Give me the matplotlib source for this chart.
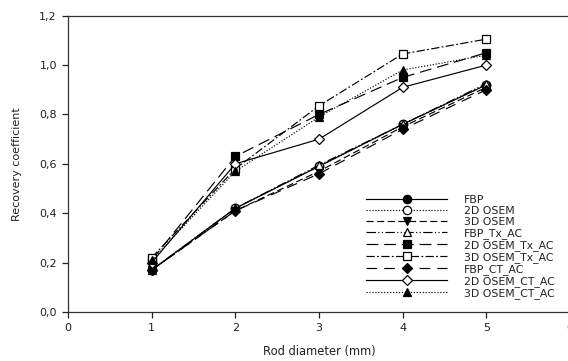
import matplotlib
matplotlib.use("Agg")
import matplotlib.pyplot as plt

plt.rcParams['font.family'] = ['DejaVu Sans']

# data
rod_diam = [1, 2, 3, 4, 5]

fbp = [0.17, 0.42, 0.59, 0.76, 0.92]
osem2d = [0.17, 0.42, 0.59, 0.76, 0.92]
osem3d = [0.17, 0.41, 0.57, 0.75, 0.91]
fbp_tx = [0.17, 0.42, 0.595, 0.76, 0.925]
osem2d_tx = [0.21, 0.63, 0.80, 0.95, 1.05]
osem3d_tx = [0.22, 0.58, 0.835, 1.045, 1.105]
fbp_ct = [0.17, 0.41, 0.56, 0.74, 0.90]
osem2d_ct = [0.20, 0.60, 0.70, 0.91, 1.00]
osem3d_ct = [0.21, 0.57, 0.79, 0.98, 1.04]

labels = ["FBP", "2D OSEM", "3D OSEM", "FBP_Tx_AC", "2D OSEM_Tx_AC",
          "3D OSEM_Tx_AC", "FBP_CT_AC", "2D OSEM_CT_AC", "3D OSEM_CT_AC"]
series = [fbp, osem2d, osem3d, fbp_tx, osem2d_tx, osem3d_tx, fbp_ct, osem2d_ct, osem3d_ct]

# style per series: marker, filled, linestyle, markersize
styles = [
    ("o", True, "-", 6),
    ("o", False, (0, (1, 1.5)), 6),
    ("v", True, (0, (6, 3)), 6),
    ("^", False, (0, (8, 2, 1, 2, 1, 2)), 6),
    ("s", True, (0, (10, 5)), 5.5),
    ("s", False, (0, (7, 2, 1.5, 2)), 5.5),
    ("D", True, (0, (9, 6)), 5),
    ("D", False, "-", 5),
    ("^", True, (0, (1, 1.5)), 6),
]

fig = plt.figure(figsize=(5.68, 3.61), dpi=100)
ax = fig.add_axes([68/568, 49/361, 502/568, 296.3/361])

for y, lab, (mk, filled, ls, ms) in zip(series, labels, styles):
    ax.plot(rod_diam, y, color="black", lw=0.85, linestyle=ls, marker=mk,
            markersize=ms, markerfacecolor="black" if filled else "white",
            markeredgecolor="black", markeredgewidth=0.9, label=lab)

ax.set_xlim(0, 6)
ax.set_ylim(0, 1.2)
ax.set_xticks([0, 1, 2, 3, 4, 5, 6])
ax.set_yticks([0, 0.2, 0.4, 0.6, 0.8, 1.0, 1.2])
ax.set_yticklabels(["0,0", "0,2", "0,4", "0,6", "0,8", "1,0", "1,2"])
ax.tick_params(direction="out", length=4, width=0.9, labelsize=8,
               top=False, right=False, colors="#222222", pad=4)
for sp in ax.spines.values():
    sp.set_linewidth(0.9)
    sp.set_color("#333333")

ax.set_xlabel("Rod diameter (mm)", fontsize=8.3, color="#222222", va="center")
ax.xaxis.set_label_coords(0.5, (312 - 351) / 296.3)
ax.set_ylabel("Recovery coefficient", fontsize=8, color="#222222", va="center")
ax.yaxis.set_label_coords((17 - 68) / 502, 0.5)

leg = ax.legend(loc="lower left", bbox_to_anchor=(298/502, 13/296.3), frameon=False,
                fontsize=7.8, handlelength=7.5, handletextpad=1.5,
                labelspacing=0.1, borderaxespad=0.0, borderpad=0.0)
for t in leg.get_texts():
    t.set_color("#222222")

fig.savefig("out.png", dpi=100)
